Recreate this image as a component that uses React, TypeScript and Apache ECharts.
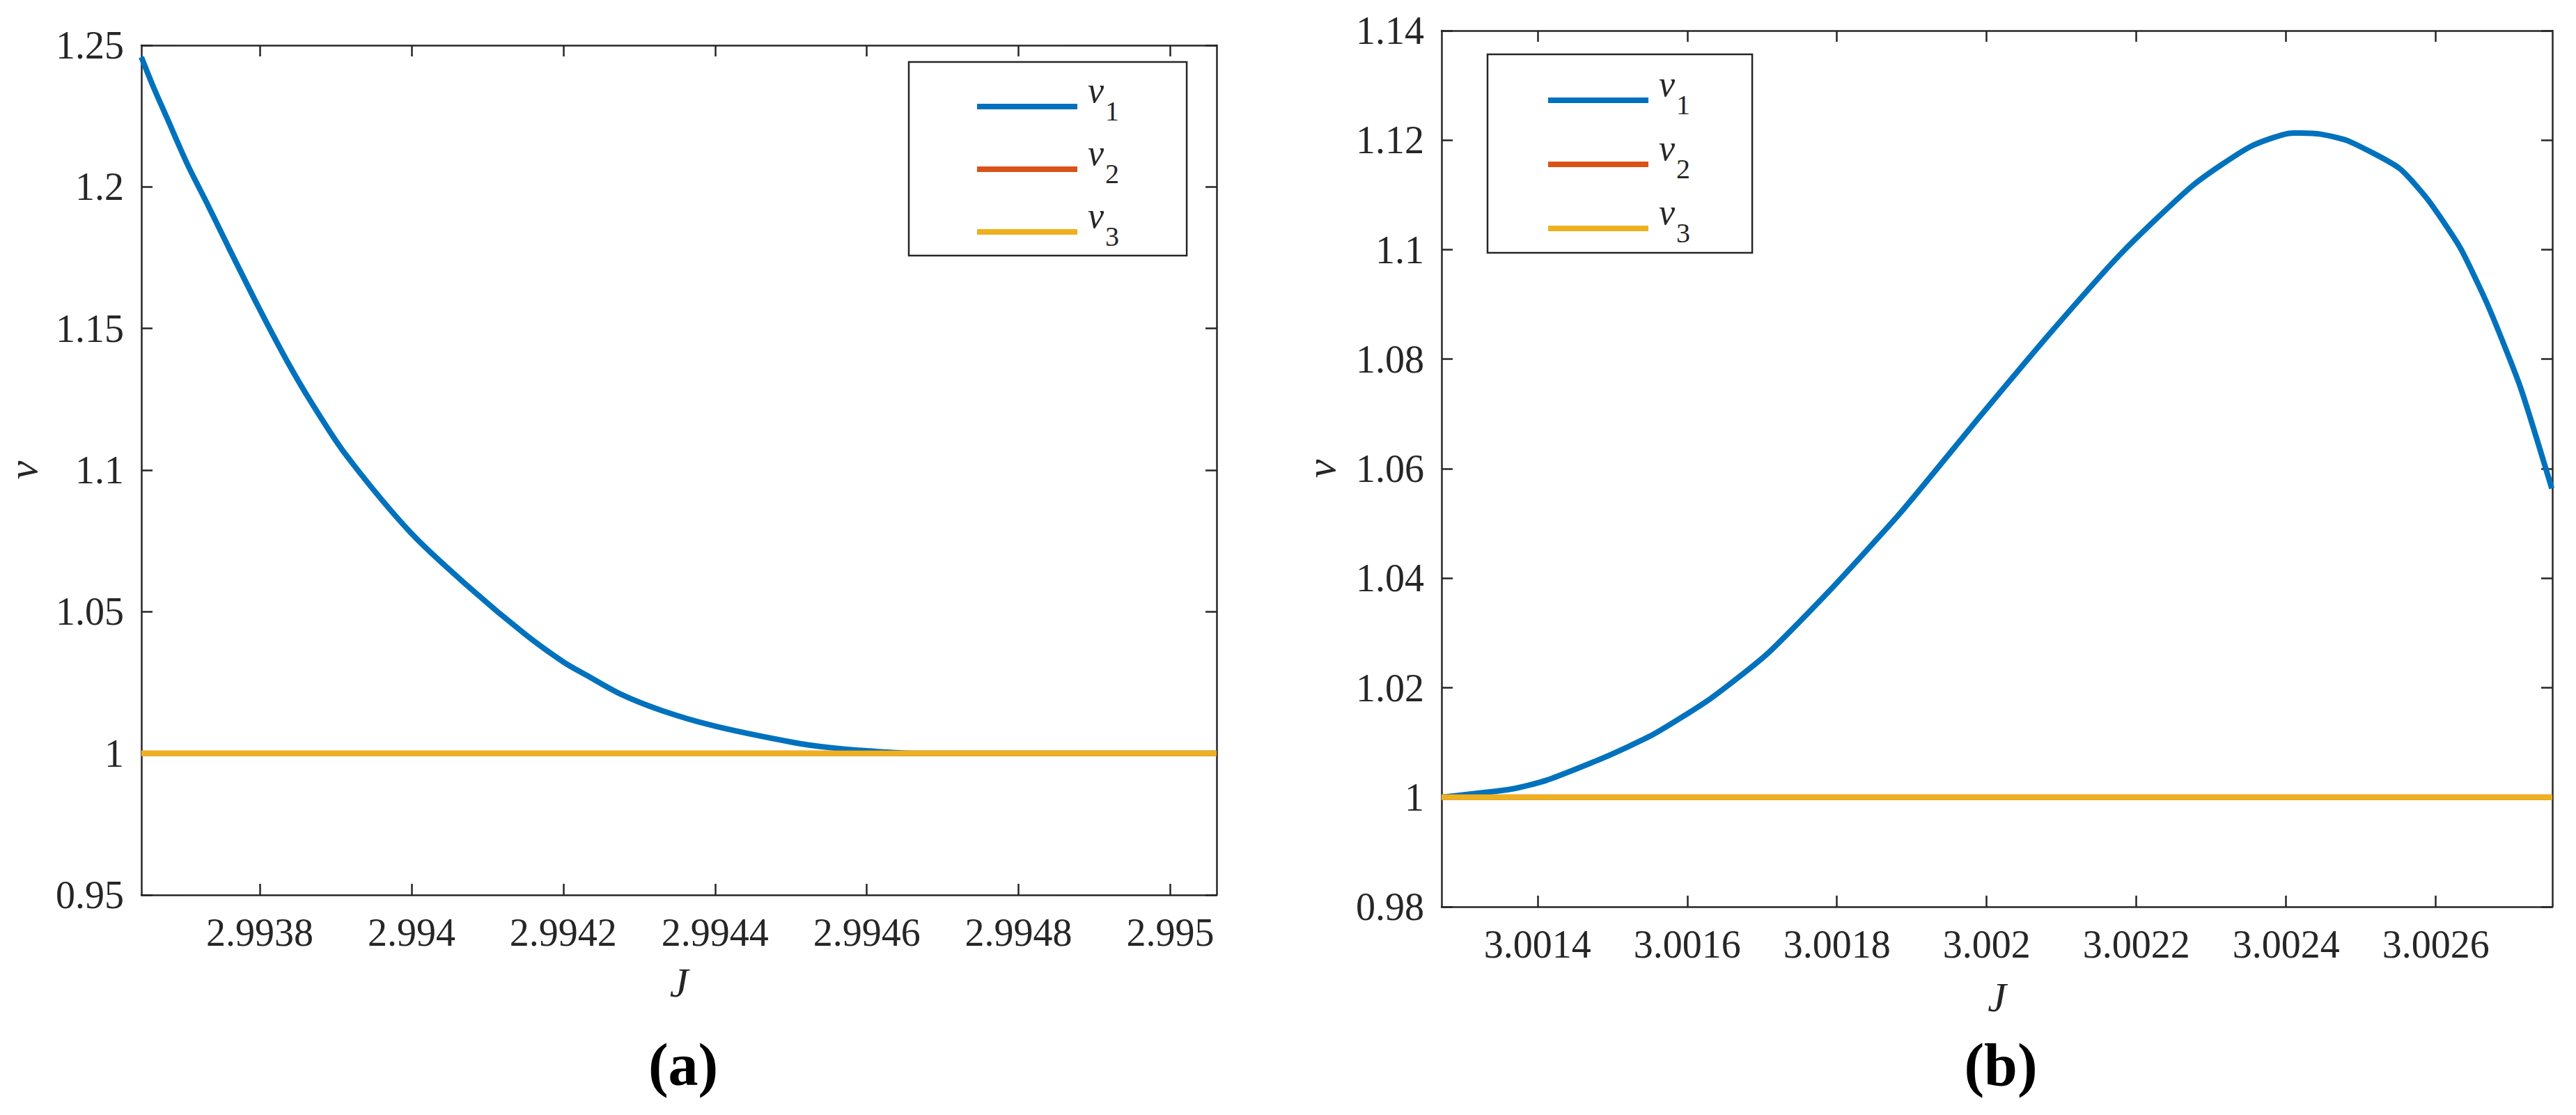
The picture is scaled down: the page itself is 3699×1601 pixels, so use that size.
import React, { useEffect, useRef } from "react";
import * as echarts from "echarts";

// ---------- data ----------
const seriesNames = ["ν1", "ν2", "ν3"];
const seriesColors = ["#0072BD", "#D95319", "#EDB120"];

// panel (a)
const leftJ = [
  2.993644, 2.993659, 2.993678, 2.993705, 2.993732, 2.993759, 2.9938, 2.993836,
  2.993868, 2.993913, 2.994, 2.994077, 2.99415, 2.9942, 2.994231, 2.994277,
  2.994331, 2.9944, 2.994504, 2.994549, 2.9946, 2.994658, 2.995061,
];
const leftNu1 = [
  1.2458, 1.2358, 1.2242, 1.2078, 1.1934, 1.1786, 1.1567, 1.1385,
  1.1239, 1.1056, 1.0776, 1.0584, 1.042, 1.0323, 1.0275, 1.0207,
  1.015, 1.0096, 1.0038, 1.0021, 1.0009, 1.0, 1.0,
];
const leftXRange = [2.993644, 2.995061];
const leftYRange = [0.95, 1.25];
const leftXTicks = [2.9938, 2.994, 2.9942, 2.9944, 2.9946, 2.9948, 2.995];
const leftYTicks = [0.95, 1, 1.05, 1.1, 1.15, 1.2, 1.25];

// panel (b)
const rightJ = [
  3.001272, 3.001365, 3.001412, 3.001488, 3.001555, 3.001631, 3.001707, 3.001792,
  3.001887, 3.001992, 3.002087, 3.002181, 3.002276, 3.002352, 3.002409, 3.002446,
  3.002484, 3.002551, 3.002589, 3.002632, 3.00267, 3.002713, 3.002755,
];
const rightNu1 = [
  1.0, 1.0015, 1.0031, 1.0072, 1.0115, 1.018, 1.0262, 1.038,
  1.0523, 1.0697, 1.0851, 1.0995, 1.1118, 1.1188, 1.1213, 1.1211,
  1.1198, 1.1149, 1.1092, 1.1005, 1.0897, 1.0749, 1.0564,
];
const rightXRange = [3.0012718, 3.0027557];
const rightYRange = [0.98, 1.14];
const rightXTicks = [3.0014, 3.0016, 3.0018, 3.002, 3.0022, 3.0024, 3.0026];
const rightYTicks = [0.98, 1, 1.02, 1.04, 1.06, 1.08, 1.1, 1.12, 1.14];

// constant branches
const nu2Level = 1;
const nu3Level = 1;

const panelLabels = ["a", "b"];

// ---------- styling ----------
const SERIF = "Liberation Serif";
const INK = "#262626";

function axisSet(
  gridIndex: number,
  xr: number[],
  yr: number[],
  xt: number[],
  yt: number[],
  xNameGap: number,
  yNameGap: number
) {
  const line = { show: true, onZero: false, lineStyle: { color: INK, width: 2.5 } };
  const tick = (vals: number[]) => ({
    show: true,
    inside: true,
    length: 16,
    customValues: vals,
    lineStyle: { color: INK, width: 2.5 },
  });
  const label = (vals: number[], margin: number) => ({
    show: true,
    customValues: vals,
    formatter: (v: number) => String(v),
    fontFamily: SERIF,
    fontSize: 56,
    color: INK,
    margin,
    showMinLabel: true,
    showMaxLabel: true,
  });
  const x = [
    {
      type: "value",
      gridIndex,
      position: "bottom",
      min: xr[0],
      max: xr[1],
      axisLine: line,
      axisTick: tick(xt),
      axisLabel: label(xt, 26),
      splitLine: { show: false },
      name: "J",
      nameLocation: "middle",
      nameGap: xNameGap,
      nameTextStyle: { fontFamily: SERIF, fontStyle: "italic", fontSize: 60, color: INK },
    },
    {
      type: "value",
      gridIndex,
      position: "top",
      min: xr[0],
      max: xr[1],
      axisLine: line,
      axisTick: tick(xt),
      axisLabel: { show: false },
      splitLine: { show: false },
    },
  ];
  const y = [
    {
      type: "value",
      gridIndex,
      position: "left",
      min: yr[0],
      max: yr[1],
      axisLine: line,
      axisTick: tick(yt),
      axisLabel: label(yt, 25),
      splitLine: { show: false },
      name: "ν",
      nameLocation: "middle",
      nameRotate: 90,
      nameGap: yNameGap,
      nameTextStyle: { fontFamily: SERIF, fontStyle: "italic", fontSize: 60, color: INK },
    },
    {
      type: "value",
      gridIndex,
      position: "right",
      min: yr[0],
      max: yr[1],
      axisLine: line,
      axisTick: tick(yt),
      axisLabel: { show: false },
      splitLine: { show: false },
    },
  ];
  return { x, y };
}

function legendFor(left: number, top: number, padding: number[], gap: number) {
  return {
    left,
    top,
    orient: "vertical",
    selectedMode: false,
    data: seriesNames.map((n) => ({ name: n, icon: "rect" })),
    itemWidth: 144,
    itemHeight: 8,
    itemGap: gap,
    padding,
    borderColor: INK,
    borderWidth: 2.5,
    backgroundColor: "#ffffff",
    formatter: (name: string) => `{n|ν}{s|${name.slice(1)}}`,
    textStyle: {
      color: INK,
      fontFamily: SERIF,
      rich: {
        n: {
          fontFamily: SERIF,
          fontStyle: "italic",
          fontSize: 52,
          lineHeight: 52,
          color: INK,
          padding: [2, 2, 24, 10],
          verticalAlign: "bottom",
        },
        s: {
          fontFamily: SERIF,
          fontSize: 40,
          lineHeight: 40,
          color: INK,
          verticalAlign: "bottom",
        },
      },
    },
  };
}

function panelSeries(
  xIdx: number,
  yIdx: number,
  js: number[],
  nu1: number[],
  xr: number[],
  smooth: number
) {
  const levels = [null, nu2Level, nu3Level];
  return seriesNames.map((name, i) => ({
    type: "line",
    name,
    xAxisIndex: xIdx,
    yAxisIndex: yIdx,
    showSymbol: false,
    symbol: "none",
    smooth: i === 0 ? smooth : false,
    color: seriesColors[i],
    lineStyle: { color: seriesColors[i], width: 8 },
    data:
      i === 0
        ? js.map((j, k) => [j, nu1[k]])
        : [
            [xr[0], levels[i] as number],
            [xr[1], levels[i] as number],
          ],
    z: 2 + i,
  }));
}

export default function App() {
  const ref = useRef<HTMLDivElement>(null);

  useEffect(() => {
    if (!ref.current) return;
    const chart = echarts.init(ref.current, undefined, { renderer: "svg" });
    const a = axisSet(0, leftXRange, leftYRange, leftXTicks, leftYTicks, 96, 140);
    const b = axisSet(1, rightXRange, rightYRange, rightXTicks, rightYTicks, 100, 143);
    const titleRich = {
      p: { fontFamily: SERIF, fontSize: 86, color: "#000" },
      b: { fontFamily: SERIF, fontSize: 86, fontWeight: "bold", color: "#000" },
    };
    chart.setOption({
      animation: false,
      backgroundColor: "#ffffff",
      textStyle: { fontFamily: SERIF },
      grid: [
        { left: 203, top: 65, width: 1544, height: 1220, containLabel: false },
        { left: 2070, top: 44, width: 1595, height: 1258, containLabel: false },
      ],
      xAxis: [...a.x, ...b.x],
      yAxis: [...a.y, ...b.y],
      legend: [
        legendFor(1305, 89, [12, 97, 8, 98], 12),
        legendFor(2136, 78, [14, 89, 9, 87], 14),
      ],
      title: [
        {
          left: 981,
          top: 1486,
          textAlign: "center",
          padding: 0,
          text: `{p|(}{b|${panelLabels[0]}}{p|)}`,
          textStyle: { fontFamily: SERIF, rich: titleRich },
        },
        {
          left: 2873,
          top: 1486,
          textAlign: "center",
          padding: 0,
          text: `{p|(}{b|${panelLabels[1]}}{p|)}`,
          textStyle: { fontFamily: SERIF, rich: titleRich },
        },
      ],
      series: [
        ...panelSeries(0, 0, leftJ, leftNu1, leftXRange, 0.3),
        ...panelSeries(2, 2, rightJ, rightNu1, rightXRange, 0.2),
      ],
    });
    return () => chart.dispose();
  }, []);

  return (
    <div
      ref={ref}
      style={{ position: "fixed", left: 0, top: 0, width: 3699, height: 1601, background: "#fff" }}
    />
  );
}
